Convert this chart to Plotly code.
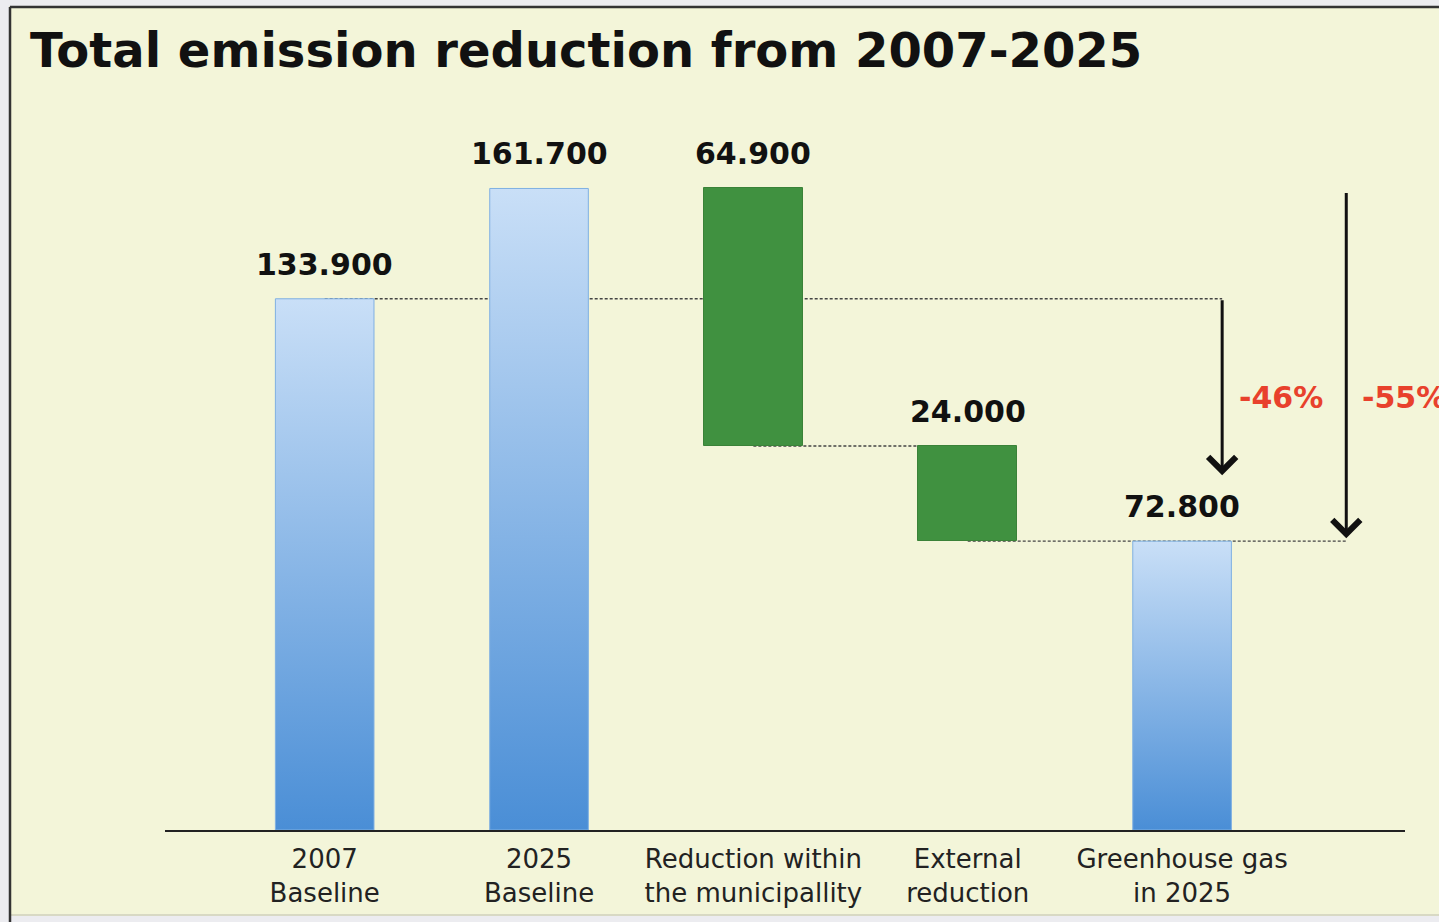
import plotly.graph_objects as go

# ---------------- data ----------------
categories = ["2007<br>Baseline", "2025<br>Baseline", "Reduction within<br>the municipallity",
              "External<br>reduction", "Greenhouse gas<br>in 2025"]
values = [133.9, 161.7, 64.9, 24.0, 72.8]
kinds = ["total", "total", "reduction", "reduction", "total"]
value_labels = ["133.900", "161.700", "64.900", "24.000", "72.800"]
pct_labels = ["-46%", "-55%"]
title_text = "Total emission reduction from 2007-2025"

# ---------------- styling ----------------
BG = "#f3f5d9"
OUTER = "#ececf0"
GREEN = "#409140"
BLUE_DARK = "#4a8ed6"
BLUE_LIGHT = "#c9dff7"
BLUE_EDGE = "#7fb0e2"
RED = "#e8412c"
BAR_W = 0.46

fig = go.Figure()

# compute bases (waterfall)
bases = []
level = 0.0
for v, k in zip(values, kinds):
    if k == "total":
        bases.append(0.0)
        level = v
    else:
        level = level - v
        bases.append(level)
tops = [b + v for b, v in zip(bases, values)]

# blue total bars with vertical gradient
for i, (v, k) in enumerate(zip(values, kinds)):
    if k != "total":
        continue
    x0, x1 = i - BAR_W / 2, i + BAR_W / 2
    fig.add_trace(go.Scatter(
        x=[x0, x1, x1, x0, x0], y=[0, 0, v, v, 0],
        mode="lines", fill="toself",
        line=dict(color=BLUE_EDGE, width=1),
        fillgradient=dict(type="vertical", start=0, stop=v,
                          colorscale=[[0, BLUE_DARK], [1, BLUE_LIGHT]]),
        hoverinfo="skip", showlegend=False,
    ))

# green reduction bars
red_idx = [i for i, k in enumerate(kinds) if k == "reduction"]
fig.add_trace(go.Bar(
    x=red_idx, y=[values[i] for i in red_idx], base=[bases[i] for i in red_idx],
    width=BAR_W, marker=dict(color=GREEN, line=dict(color="#3a8238", width=1)),
    showlegend=False, hoverinfo="skip",
))

# value labels
for i, t in enumerate(value_labels):
    fig.add_annotation(x=i, y=tops[i], text=f"<b>{t}</b>", showarrow=False,
                       yanchor="bottom", yshift=15,
                       font=dict(family="DejaVu Sans", size=30, color="#111"))

ARROW1_X = 4.187
ARROW2_X = 4.766

# dotted connector lines
line_style = dict(color="#444", width=1.4, dash="3px,2px")
fig.add_shape(type="line", x0=0, x1=ARROW1_X, y0=values[0], y1=values[0],
              line=line_style, layer="below")
fig.add_shape(type="line", x0=2, x1=3, y0=bases[2], y1=bases[2],
              line=line_style, layer="below")
fig.add_shape(type="line", x0=3, x1=ARROW2_X, y0=values[4], y1=values[4],
              line=line_style, layer="below")

# arrows
fig.add_annotation(x=ARROW1_X, y=values[4], ax=ARROW1_X, ay=values[0],
                   xref="x", yref="y", axref="x", ayref="y", text="",
                   showarrow=True, arrowhead=4, arrowsize=1.8, arrowwidth=3,
                   arrowcolor="#111", standoff=66)
fig.add_annotation(x=ARROW2_X, y=values[4], ax=ARROW2_X, ay=values[1],
                   xref="x", yref="y", axref="x", ayref="y", text="",
                   showarrow=True, arrowhead=4, arrowsize=1.8, arrowwidth=3,
                   arrowcolor="#111", standoff=3, startstandoff=3)

# percentage labels
fig.add_annotation(x=4.462, y=109, text=f"<b>{pct_labels[0]}</b>", showarrow=False,
                   xanchor="center", yanchor="middle",
                   font=dict(family="DejaVu Sans", size=30, color=RED))
fig.add_annotation(x=4.831, y=109, text=f"<b>{pct_labels[1]}</b>", showarrow=False,
                   xanchor="left", yanchor="middle",
                   font=dict(family="DejaVu Sans", size=30, color=RED))

# background panel with border
L, R, T, B = 165, 34, 100, 92
W, H = 1439, 922
pw, ph = W - L - R, H - T - B
def px_x(p):
    return (p - L) / pw
def px_y(p):
    return (H - B - p) / ph
fig.add_shape(type="rect", xref="paper", yref="paper",
              x0=px_x(10), x1=px_x(1460), y0=px_y(915), y1=px_y(7),
              fillcolor=BG, line=dict(color="#d8d9c4", width=2), layer="below")
fig.add_shape(type="line", xref="paper", yref="paper",
              x0=px_x(10), x1=px_x(10), y0=px_y(922), y1=px_y(7),
              line=dict(color="#333", width=2.5), layer="below")
fig.add_shape(type="line", xref="paper", yref="paper",
              x0=px_x(10), x1=px_x(1460), y0=px_y(7), y1=px_y(7),
              line=dict(color="#333", width=2.5), layer="below")

fig.update_layout(
    width=W, height=H,
    margin=dict(l=L, r=R, t=T, b=B),
    paper_bgcolor=OUTER, plot_bgcolor="rgba(0,0,0,0)",
    title=dict(text=f"<b>{title_text}</b>", xref="container", yref="container",
               x=30 / W, y=1 - 50 / H, xanchor="left", yanchor="middle",
               font=dict(family="DejaVu Sans", size=48, color="#111")),
    xaxis=dict(range=[-0.745, 5.04], tickmode="array", tickvals=list(range(len(categories))),
               ticktext=categories, showgrid=False, zeroline=False,
               showline=True, linecolor="#222", linewidth=1.5, ticks="",
               ticklabelstandoff=5,
               tickfont=dict(family="DejaVu Sans", size=26, color="#222"),
               fixedrange=True),
    yaxis=dict(range=[0, 184], visible=False, showgrid=False, zeroline=False,
               fixedrange=True),
    bargap=0,
)

fig.write_html("out.html")
